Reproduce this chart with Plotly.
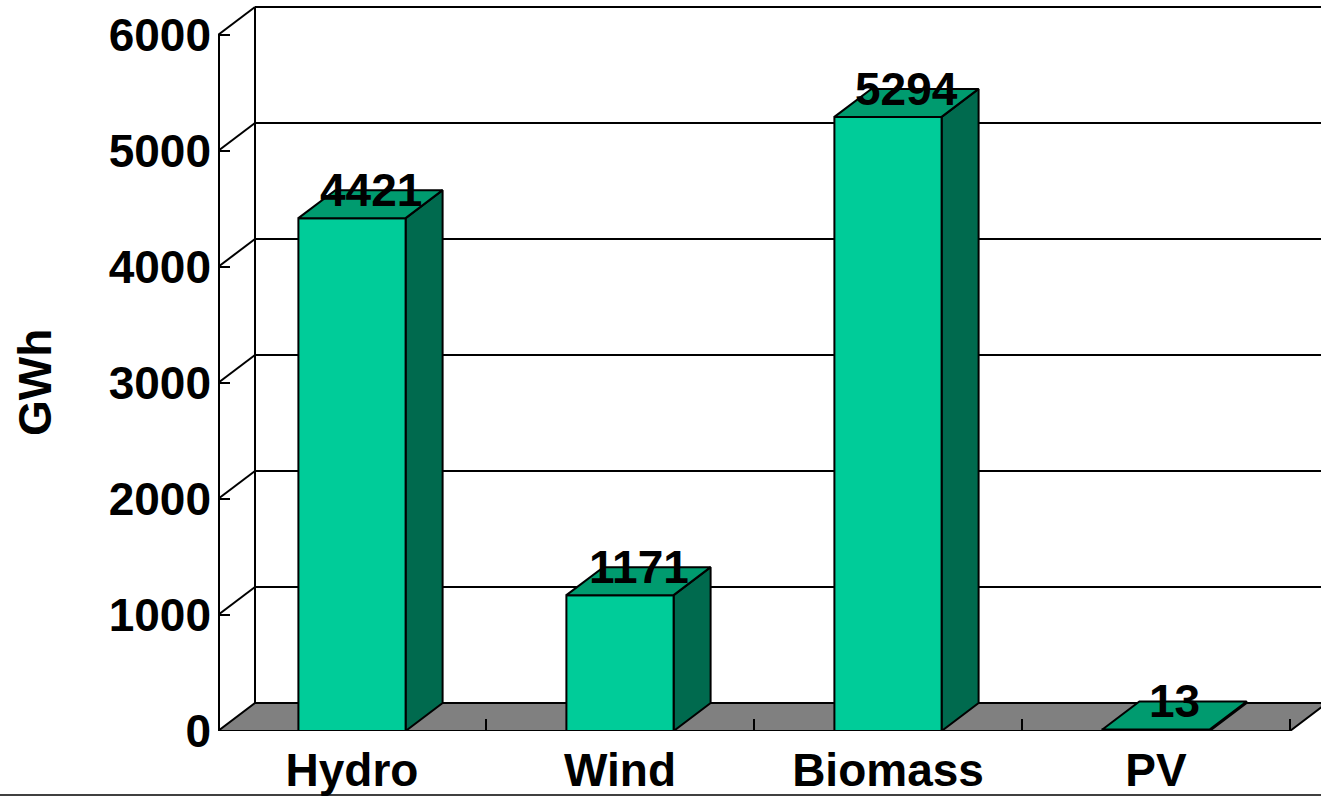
import plotly.graph_objects as go

# ---- data ----
categories = ["Hydro", "Wind", "Biomass", "PV"]
values = [4421, 1171, 5294, 13]
y_ticks = [0, 1000, 2000, 3000, 4000, 5000, 6000]
y_title = "GWh"

# ---- style / geometry ----
W, H = 1321, 796
ML, MB = 218, 65
PX_PER_CAT = 268.0
PX_PER_UNIT = 0.116
BAR_W = 0.40
DX = 37 / PX_PER_CAT          # depth offset in category units
DY = 28 / PX_PER_UNIT         # depth offset in value units
FRONT = "#00CC99"
TOP = "#009B6F"
SIDE = "#006A4E"
FLOOR = "#808080"
FONT = "Liberation Sans, Arial, sans-serif"
FS = 46

x_range = [-0.5, -0.5 + (W - ML) / PX_PER_CAT]
y_range = [0, (H - MB) / PX_PER_UNIT]
x_left = -0.5
x_right = len(categories) - 0.5
y_top = y_ticks[-1]

fig = go.Figure()

def poly(xs, ys, fill, lw=2, color="black"):
    fig.add_trace(go.Scatter(
        x=list(xs) + [xs[0]], y=list(ys) + [ys[0]],
        mode="lines", fill="toself" if fill else None, fillcolor=fill,
        line=dict(color=color, width=lw), hoverinfo="skip", showlegend=False))

def line(xs, ys, lw=2):
    fig.add_trace(go.Scatter(x=xs, y=ys, mode="lines",
                             line=dict(color="black", width=lw),
                             hoverinfo="skip", showlegend=False))

# floor
poly([x_left, x_right, x_right + DX, x_left + DX],
     [0, 0, DY, DY], FLOOR)

# back wall gridlines + diagonals
for t in y_ticks:
    if t > 0:
        line([x_left + DX, x_range[1] + 1], [t + DY, t + DY])
        line([x_left, x_left + DX], [t, t + DY])
# back wall left edge
line([x_left + DX, x_left + DX], [DY, y_top + DY])
# front value axis
line([x_left, x_left], [0, y_top], lw=4)

# bars
for i, v in enumerate(values):
    x0, x1 = i - BAR_W / 2, i + BAR_W / 2
    poly([x1, x1 + DX, x1 + DX, x1], [0, DY, v + DY, v], SIDE)
    poly([x0, x1, x1, x0], [0, 0, v, v], FRONT)
    poly([x0, x1, x1 + DX, x0 + DX], [v, v, v + DY, v + DY], TOP)
    fig.add_annotation(x=i + DX / 2, y=v + DY, text=str(v), showarrow=False,
                       xanchor="center", yanchor="middle",
                       font=dict(family=FONT, size=FS, color="black", weight="bold"))

# y title
fig.add_annotation(xref="paper", yref="y", x=(35 - ML) / (W - ML), y=(y_ticks[0] + y_ticks[-1]) / 2,
                   text=y_title, textangle=-90, showarrow=False,
                   xanchor="center", yanchor="middle",
                   font=dict(family=FONT, size=FS, color="black", weight="bold"))

# bottom border line
fig.add_shape(type="line", xref="paper", yref="paper",
              x0=-ML / (W - ML), x1=1, y0=-64 / (H - MB), y1=-64 / (H - MB),
              line=dict(color="black", width=1.5))

fig.update_layout(
    width=W, height=H,
    margin=dict(l=ML, r=0, t=0, b=MB, pad=0),
    paper_bgcolor="white", plot_bgcolor="white",
    xaxis=dict(range=x_range, showgrid=False, zeroline=False, showline=False,
               tickvals=list(range(len(categories))), ticktext=categories,
               ticks="", ticklabelstandoff=8,
               tickfont=dict(family=FONT, size=FS, color="black", weight="bold"),
               minor=dict(tickvals=[k + 0.5 for k in range(len(categories))],
                          ticks="inside", ticklen=12, tickwidth=2, tickcolor="black"),
               fixedrange=True),
    yaxis=dict(range=y_range, showgrid=False, zeroline=False, showline=False,
               tickvals=y_ticks, ticks="inside", ticklen=12, tickwidth=2,
               tickcolor="black", ticklabelstandoff=6,
               tickfont=dict(family=FONT, size=FS, color="black", weight="bold"),
               fixedrange=True),
)

fig.write_html(
    "out.html",
    config={"displayModeBar": False},
    post_script="document.body.style.margin='0';document.body.style.overflow='hidden';",
)
